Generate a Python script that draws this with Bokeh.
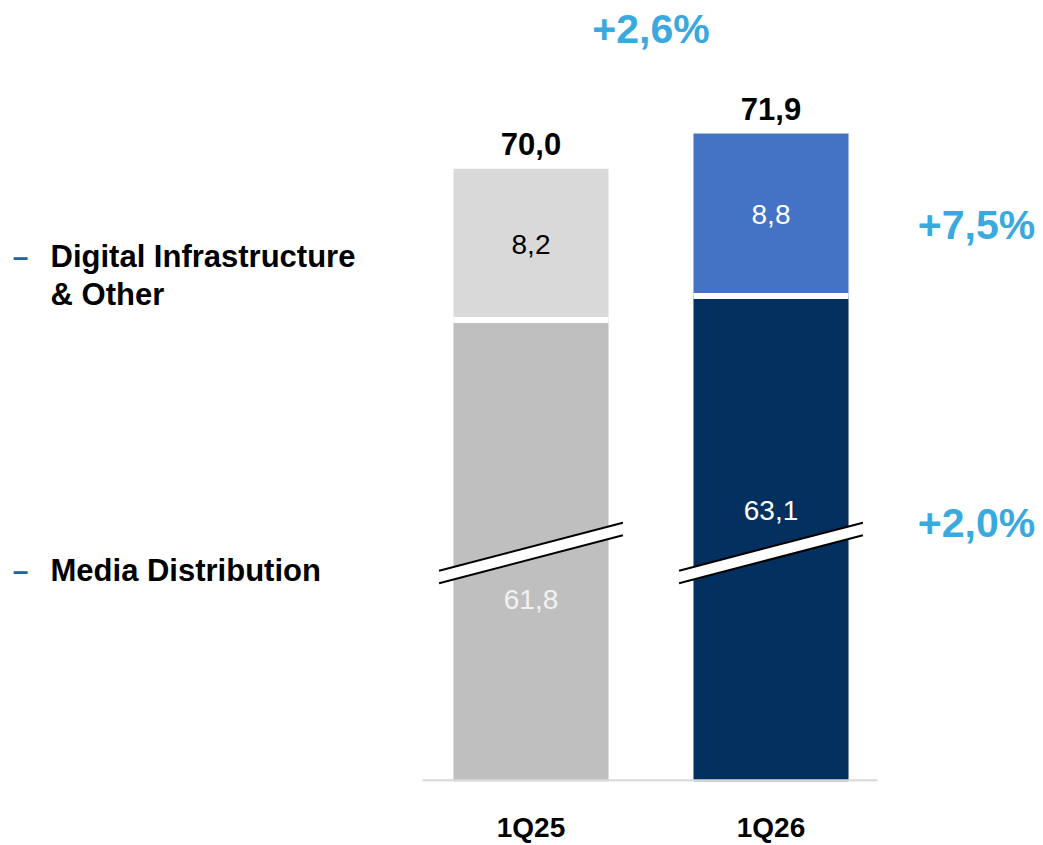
from bokeh.plotting import figure
from bokeh.models import Range1d, FixedTicker, ColumnDataSource
from bokeh.core.properties import value
from bokeh.embed import file_html
from bokeh.resources import INLINE

# ---------------- data ----------------
categories = ["1Q25", "1Q26"]
media = [61.8, 63.1]          # Media Distribution
digital = [8.2, 8.8]          # Digital Infrastructure & Other
totals = [70.0, 71.9]
growth_total = "+2,6%"
growth_digital = "+7,5%"
growth_media = "+2,0%"
legend_lines = ["Digital Infrastructure", "& Other", "Media Distribution"]

# ---------------- layout / style ----------------
AXIS_BREAK = 36.8            # portion of the axis hidden by the break
BAR_W = 0.646
FONT = "Liberation Sans"
BLUE_TXT = "#39A9E0"
media_colors = ["#BFBFBF", "#03305F"]
digital_colors = ["#D9D9D9", "#4472C4"]
digital_txt_colors = ["#000000", "#FFFFFF"]
media_txt_colors = ["#F2F2F2", "#FFFFFF"]
media_label_y = [9.86, 14.68]          # manual label spots inside broken segment
BREAK_Y = 12.38                        # centre of break marks (display units)
BREAK_RISE = 1.30
BREAK_HALF = 0.34
BREAK_HALF_W = 0.383
TOTAL_GAP = 1.35
legend_x_dash = -2.127
legend_x_text = -2.002
legend_y = [28.44, 26.38, 11.43]
dash_y = [28.44, 11.43]
growth_x = [0.5, 1.856, 1.856]
growth_y = [40.74, 30.17, 14.0]

xs = list(range(len(categories)))
media_disp = [m - AXIS_BREAK for m in media]
top_disp = [m + d for m, d in zip(media_disp, digital)]

def fmt(v):
    return f"{v:.1f}".replace(".", ",")

p = figure(width=1043, height=845, output_backend="svg", toolbar_location=None,
           x_range=Range1d(-2.2104, 2.1354), y_range=Range1d(0, 42.31),
           y_axis_location=None, min_border=0, min_border_left=0,
           min_border_right=0, min_border_top=0, min_border_bottom=64)
p.outline_line_color = None
p.xgrid.visible = False
p.ygrid.visible = False
p.background_fill_color = "white"
p.border_fill_color = "white"

# bars
src = ColumnDataSource(dict(x=xs, m=media_disp, t=top_disp,
                            mc=media_colors, dc=digital_colors))
p.vbar(x="x", bottom=0, top="m", width=BAR_W, fill_color="mc", line_color=None, source=src)
p.vbar(x="x", bottom="m", top="t", width=BAR_W, fill_color="dc", line_color=None, source=src)

# white gap between segments
p.segment(x0=[x - BAR_W / 2 for x in xs], x1=[x + BAR_W / 2 for x in xs],
          y0=media_disp, y1=media_disp, line_color="white", line_width=6)

# baseline
p.segment(x0=[-0.452], x1=[1.444], y0=[0.054], y1=[0.054], line_color="#D9D9D9", line_width=2.5)

# axis break marks
pxs, pys, lxs, lys = [], [], [], []
for x in xs:
    xl, xr = x - BREAK_HALF_W, x + BREAK_HALF_W
    yl, yr = BREAK_Y - BREAK_RISE, BREAK_Y + BREAK_RISE
    pxs.append([xl, xr, xr, xl])
    pys.append([yl + BREAK_HALF, yr + BREAK_HALF, yr - BREAK_HALF, yl - BREAK_HALF])
    lxs += [[xl, xr], [xl, xr]]
    lys += [[yl + BREAK_HALF, yr + BREAK_HALF], [yl - BREAK_HALF, yr - BREAK_HALF]]
p.patches(pxs, pys, fill_color="white", line_color=None)
p.multi_line(lxs, lys, line_color="black", line_width=2)

# total labels
p.text(x=xs, y=[t + TOTAL_GAP for t in top_disp], text=[fmt(v) for v in totals],
       text_align="center", text_baseline="alphabetic", text_font=value(FONT),
       text_font_style="bold", text_font_size="31px", text_color="black")

# digital segment labels
p.text(x=xs, y=[(m + t) / 2 for m, t in zip(media_disp, top_disp)],
       text=[fmt(v) for v in digital], text_align="center", text_baseline="middle",
       text_font=value(FONT), text_font_size="28px", text_color=digital_txt_colors)

# media segment labels
p.text(x=xs, y=media_label_y, text=[fmt(v) for v in media], text_align="center",
       text_baseline="middle", text_font=value(FONT), text_font_size="28px",
       text_color=media_txt_colors)

# growth labels
p.text(x=growth_x, y=growth_y,
       text=[growth_total, growth_digital, growth_media], text_align="center",
       text_baseline="middle", text_font=value(FONT), text_font_style="bold",
       text_font_size="41px", text_color=BLUE_TXT)

# side labels
p.text(x=[legend_x_dash] * len(dash_y), y=dash_y, text=["–"] * len(dash_y),
       text_align="center", text_baseline="middle", text_font=value(FONT),
       text_font_style="bold", text_font_size="28px", text_color="#2461A8")
p.text(x=[legend_x_text] * len(legend_lines), y=legend_y, text=legend_lines,
       text_align="left", text_baseline="middle", text_font=value(FONT),
       text_font_style="bold", text_font_size="31px", text_color="black")

# category axis
ax = p.xaxis[0]
ax.ticker = FixedTicker(ticks=xs)
ax.major_label_overrides = {i: c for i, c in zip(xs, categories)}
ax.axis_line_color = None
ax.major_tick_line_color = None
ax.minor_tick_line_color = None
ax.major_tick_out = 0
ax.major_tick_in = 0
ax.major_label_standoff = 30
ax.major_label_text_font = FONT
ax.major_label_text_font_style = "bold"
ax.major_label_text_font_size = "28px"
ax.major_label_text_color = "black"

open("out.html", "w").write(file_html(p, INLINE))
